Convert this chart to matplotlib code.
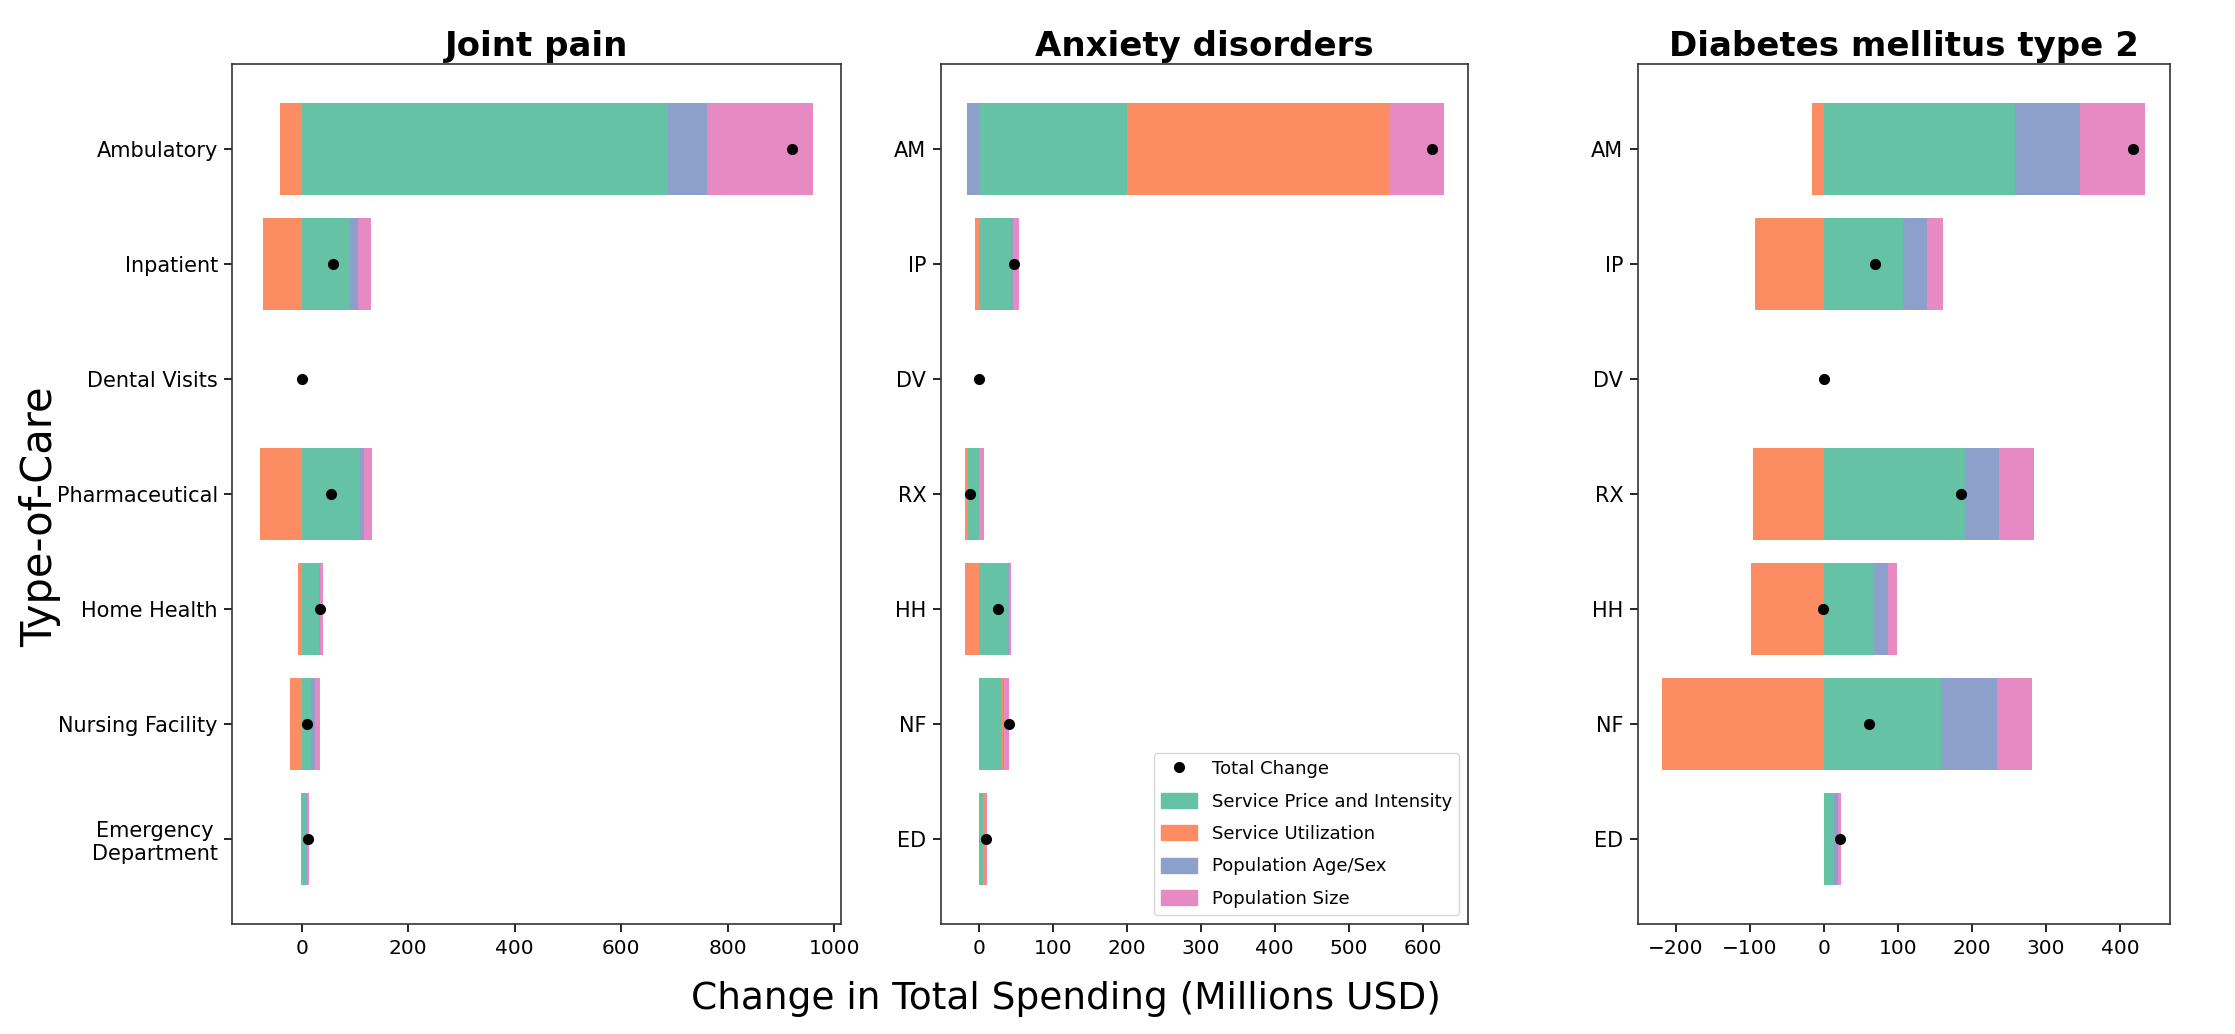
import numpy as np
import matplotlib
matplotlib.use("Agg")
import matplotlib.pyplot as plt
from matplotlib.patches import Patch
from matplotlib.lines import Line2D

# type-of-care categories (long names on the first panel, codes on the others)
care_long = ['Ambulatory', 'Inpatient', 'Dental Visits', 'Pharmaceutical',
             'Home Health', 'Nursing Facility', 'Emergency\nDepartment']
care_short = ['AM', 'IP', 'DV', 'RX', 'HH', 'NF', 'ED']

titles = ['Joint pain', 'Anxiety disorders', 'Diabetes mellitus type 2']
factors = ['Service Price and Intensity', 'Service Utilization',
           'Population Age/Sex', 'Population Size']
colors = ['#66c2a5', '#fc8d62', '#8da0cb', '#e78ac3']

# Joint pain (millions USD)
jp_price = [688, 91, 0, 109, 33, 17, 8.5]
jp_util = [-40, -72, 0, -78, -7, -22, -1.5]
jp_agesex = [74, 15, 0, 8, 1, 9, 1]
jp_popsize = [199, 24, 0, 15, 7, 8, 4]
jp_total = [921, 58, 0, 55, 34, 10, 12]

# Anxiety disorders
anx_price = [200, 44, 0, -15, 40, 31.5, 5.5]
anx_util = [355, -5.5, 0, -4, -18.5, 1.5, 4]
anx_agesex = [-16, 2.3, 0, 0.5, 0.5, 1, 0]
anx_popsize = [74, 7.5, 0, 6.5, 3.5, 6.5, 1.5]
anx_total = [612, 48, 0, -12, 26, 41, 10]

# Diabetes mellitus type 2
dm_price = [258, 107, 0, 191, 68, 157.5, 14]
dm_util = [-16, -93, 0, -96.5, -98.5, -219, 0]
dm_agesex = [88, 32, 0, 45, 19, 76.5, 5]
dm_popsize = [88, 22, 0, 47, 11, 47, 4]
dm_total = [417, 69, 0, 185, -2, 61, 22]

panels = [
    (jp_price, jp_util, jp_agesex, jp_popsize, jp_total, care_long),
    (anx_price, anx_util, anx_agesex, anx_popsize, anx_total, care_short),
    (dm_price, dm_util, dm_agesex, dm_popsize, dm_total, care_short),
]

fig = plt.figure(figsize=(22.35, 10.34), dpi=100)
rects = [[0.1040, 0.1062, 0.2723, 0.8317],
         [0.4209, 0.1062, 0.2360, 0.8317],
         [0.7328, 0.1062, 0.2379, 0.8317]]

y = np.arange(len(care_short))
for i, (price, util, agesex, popsize, total, labels) in enumerate(panels):
    ax = fig.add_axes(rects[i])
    pos = np.zeros(len(y))
    neg = np.zeros(len(y))
    for vals, c, lab in zip([price, util, agesex, popsize], colors, factors):
        vals = np.array(vals, dtype=float)
        left = np.where(vals >= 0, pos, neg)
        ax.barh(y, vals, left=left, height=0.8, color=c, label=lab)
        pos = pos + np.clip(vals, 0, None)
        neg = neg + np.clip(vals, None, 0)
    ax.plot(total, y, 'o', color='black', markersize=7, zorder=3,
            label='Total Change')
    ax.set_yticks(y)
    ax.set_yticklabels(labels, fontsize=15, multialignment='center')
    ax.tick_params(axis='x', labelsize=14.5)
    ax.tick_params(length=5.5, width=1.2, pad=5)
    ax.invert_yaxis()
    ax.set_title(titles[i], fontsize=24.5, fontweight='bold')
    for s in ax.spines.values():
        s.set_color('#333333')
        s.set_linewidth(1.2)

    if i == 1:
        handles = [Line2D([], [], marker='o', color='black', linestyle='none',
                          markersize=7)]
        handles += [Patch(color=c) for c in colors]
        ax.legend(handles, ['Total Change'] + factors, loc='lower right',
                  fontsize=13, labelspacing=0.8, handleheight=0.9)

fig.text(0.477, 0.034, 'Change in Total Spending (Millions USD)',
         ha='center', va='center', fontsize=27)
fig.text(0.018, 0.5, 'Type-of-Care', rotation=90,
         ha='center', va='center', fontsize=30)

fig.savefig('out.png', dpi=100)
